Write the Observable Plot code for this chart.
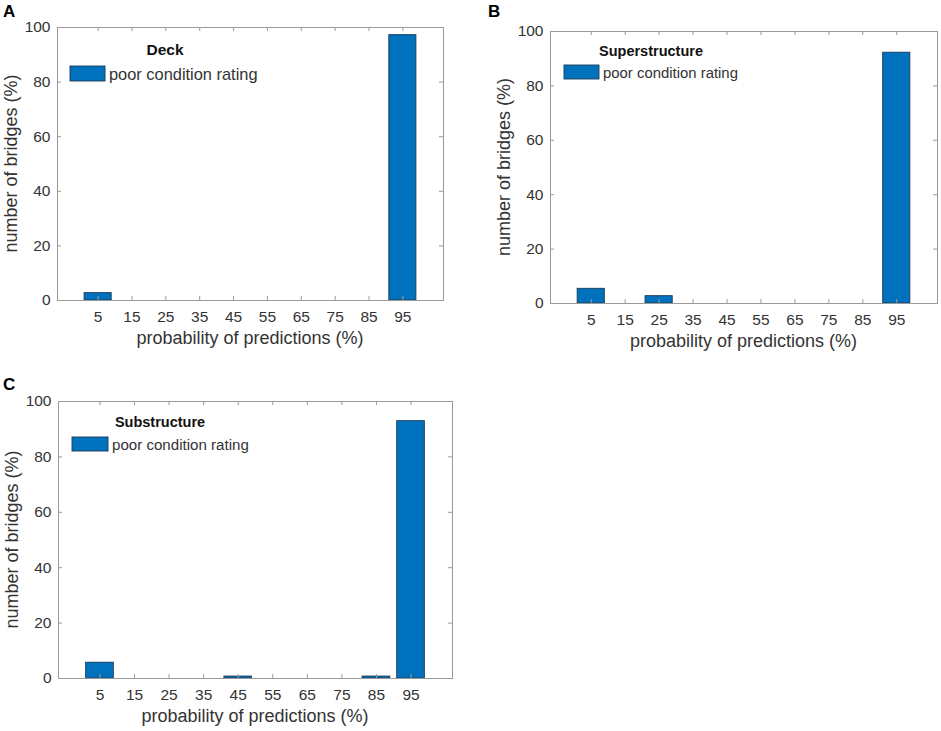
<!DOCTYPE html>
<html>
<head>
<meta charset="utf-8">
<script src="https://cdn.jsdelivr.net/npm/d3@7"></script>
<script src="https://cdn.jsdelivr.net/npm/@observablehq/plot@0.6"></script>
<style>
  html, body { margin: 0; padding: 0; background: #fff; }
  #root { position: relative; width: 941px; height: 731px; background: #fff; overflow: hidden; }
  .panel { position: absolute; }
  svg { overflow: visible; }
</style>
</head>
<body>
<div id="root"></div>
<script>
// ---- data ----
const bins = [5, 15, 25, 35, 45, 55, 65, 75, 85, 95];
const deckValues = [2.7, 0, 0, 0, 0, 0, 0, 0, 0, 97.2];
const superValues = [5.4, 0, 2.7, 0, 0, 0, 0, 0, 0, 92.2];
const subValues = [5.7, 0, 0, 0, 0.7, 0, 0, 0, 0.7, 92.9];
const yTicks = [0, 20, 40, 60, 80, 100];
const xLabel = "probability of predictions (%)";
const yLabel = "number of bridges (%)";
const legendText = "poor condition rating";

const FONT = "'Liberation Sans', Arial, Helvetica, sans-serif";
const BAR = "#0072BD";
const EDGE = "#1b3a58";
const AXIS = "#9a9a9a";
const TEXT = "#333333";
const TICK = 4;

const panels = [
  { letter: "A", title: "Deck", values: deckValues, left: 0, top: 0, width: 460, height: 360,
    m: { l: 57, r: 17, t: 27, b: 60 }, letterX: 3, letterY: 17,
    leg: { titleX: 108, titleY: 28, sx: 13, sy: 39, sw: 35, sh: 15, ty: 53, fs: 16.4, tfs: 15.5 } },
  { letter: "B", title: "Superstructure", values: superValues, left: 470, top: 0, width: 471, height: 360,
    m: { l: 80, r: 4, t: 31, b: 57 }, letterX: 18, letterY: 17,
    leg: { titleX: 101, titleY: 25, sx: 14, sy: 34, sw: 35, sh: 14, ty: 47, fs: 14.9, tfs: 14.5 } },
  { letter: "C", title: "Substructure", values: subValues, left: 0, top: 360, width: 470, height: 371,
    m: { l: 58, r: 18, t: 41, b: 53 }, letterX: 3, letterY: 30,
    leg: { titleX: 102, titleY: 26, sx: 14, sy: 36, sw: 36, sh: 14, ty: 49, fs: 15.1, tfs: 14.5 } }
];

const root = document.getElementById("root");

for (const p of panels) {
  const data = bins.map((b, i) => ({ bin: b, value: p.values[i] })).filter(d => d.value > 0);
  const pw = p.width - p.m.l - p.m.r;
  const ph = p.height - p.m.t - p.m.b;
  const chart = Plot.plot({
    width: p.width,
    height: p.height,
    marginLeft: p.m.l,
    marginRight: p.m.r,
    marginTop: p.m.t,
    marginBottom: p.m.b,
    style: { fontFamily: FONT, fontSize: "15px", color: TEXT, background: "transparent" },
    x: { domain: [-7, 107] },
    y: { domain: [0, 100] },
    marks: [
      Plot.rect(data, {
        x1: d => d.bin - 4, x2: d => d.bin + 4, y1: 0, y2: "value",
        fill: BAR, stroke: EDGE, strokeWidth: 0.9
      }),
      // inward tick marks on all four sides (MATLAB box style)
      Plot.tickX(bins, { x: d => d, insetTop: ph - TICK, stroke: AXIS }),
      Plot.tickX(bins, { x: d => d, insetBottom: ph - TICK, stroke: AXIS }),
      Plot.tickY(yTicks, { y: d => d, insetRight: pw - TICK, stroke: AXIS }),
      Plot.tickY(yTicks, { y: d => d, insetLeft: pw - TICK, stroke: AXIS }),
      Plot.frame({ stroke: AXIS, strokeWidth: 1 }),
      Plot.axisX(bins, { anchor: "bottom", tickSize: 0, tickPadding: 10, fontSize: 15.5, label: null, fill: TEXT }),
      Plot.axisY(yTicks, { anchor: "left", tickSize: 0, tickPadding: 7, fontSize: 15.5, label: null, fill: TEXT })
    ]
  });

  const svg = d3.select(chart);
  const fl = p.m.l, ft = p.m.t, fr = p.width - p.m.r, fb = p.height - p.m.b;

  // axis labels
  svg.append("text")
    .attr("x", (fl + fr) / 2).attr("y", fb + 44)
    .attr("text-anchor", "middle").attr("font-size", 18).attr("fill", TEXT)
    .attr("font-family", FONT).text(xLabel);
  svg.append("text")
    .attr("transform", `translate(${fl - 40},${(ft + fb) / 2}) rotate(-90)`)
    .attr("text-anchor", "middle").attr("font-size", 18).attr("fill", TEXT)
    .attr("font-family", FONT).text(yLabel);

  // legend
  const L = p.leg;
  svg.append("text")
    .attr("x", fl + L.titleX).attr("y", ft + L.titleY)
    .attr("text-anchor", "middle").attr("font-weight", "bold").attr("font-size", L.tfs)
    .attr("fill", "#111").attr("font-family", FONT).text(p.title);
  svg.append("rect")
    .attr("x", fl + L.sx).attr("y", ft + L.sy).attr("width", L.sw).attr("height", L.sh)
    .attr("fill", BAR).attr("stroke", EDGE).attr("stroke-width", 0.9);
  svg.append("text")
    .attr("x", fl + L.sx + L.sw + 4).attr("y", ft + L.ty)
    .attr("text-anchor", "start")
    .attr("font-size", L.fs).attr("fill", TEXT).attr("font-family", FONT).text(legendText);

  // panel letter
  svg.append("text")
    .attr("x", p.letterX).attr("y", p.letterY)
    .attr("text-anchor", "start")
    .attr("font-weight", "bold").attr("font-size", 17).attr("fill", "#000")
    .attr("font-family", FONT).text(p.letter);

  const div = document.createElement("div");
  div.className = "panel";
  div.style.left = p.left + "px";
  div.style.top = p.top + "px";
  div.appendChild(chart);
  root.appendChild(div);
}
</script>
</body>
</html>
